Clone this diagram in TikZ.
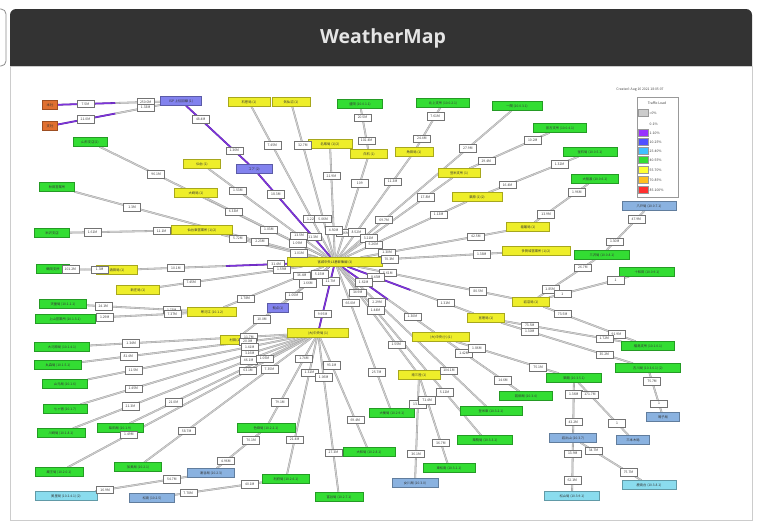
\documentclass[tikz,border=0pt]{standalone}
\usepackage{fontspec}
\setmainfont{Noto Sans CJK JP}
\newfontfamily\titlefont{Open Sans}
\usetikzlibrary{calc}
\pgfdeclarelayer{back}
\pgfdeclarelayer{bg}
\pgfsetlayers{back,bg,main}
\definecolor{hd}{HTML}{333333}
\definecolor{cgr}{HTML}{33DD33}
\definecolor{cye}{HTML}{EEEE2A}
\definecolor{cor}{HTML}{E07030}
\definecolor{csl}{HTML}{8282EE}
\definecolor{cst}{HTML}{8AB2E0}
\definecolor{ccy}{HTML}{8ADCEE}
\definecolor{gy}{HTML}{CDCDCD}
\definecolor{pu}{HTML}{7E34DC}
\definecolor{lgpu}{HTML}{9933FF}
\definecolor{lgbl}{HTML}{5050FF}
\definecolor{lglb}{HTML}{40C0FF}
\definecolor{lggr}{HTML}{33DD33}
\definecolor{lgye}{HTML}{FFFF33}
\definecolor{lgor}{HTML}{FFC020}
\definecolor{lgre}{HTML}{FF3030}
\newcommand\nfont{\fontsize{3.3}{3.6}\selectfont}
\newcommand\lfont{\fontsize{3.4}{3.7}\selectfont}
\tikzset{
 nb/.style={rectangle, inner sep=0.4pt, minimum height=9pt, font=\nfont, text=black!80, line width=0.3pt},
 gr/.style={nb, fill=cgr, draw=cgr!70!black},
 ye/.style={nb, fill=cye, draw=cye!70!black},
 orr/.style={nb, fill=cor, draw=cor!70!black},
 sl/.style={nb, fill=csl, draw=csl!70!black},
 st/.style={nb, fill=cst, draw=cst!70!black},
 cy/.style={nb, fill=ccy, draw=ccy!70!black},
 lab/.style={rectangle, draw=black!55, fill=white, inner sep=0.6pt, minimum width=17pt, minimum height=7.5pt, font=\lfont, text=black!75, line width=0.35pt},
 ln/.style={draw=#1!72!black, double=#1, double distance=1.2pt, line width=0.3pt},
 sw/.style={rectangle, minimum width=10pt, minimum height=7pt, inner sep=0pt, draw=black!40, line width=0.2pt},
 lgt/.style={font=\lfont, anchor=west, inner sep=0.5pt, text=black!75}
}
\newcommand\mkn[6]{\node[#5, minimum width=#4pt] (#1) at (#2,#3) {#6};}
\newcommand\lk[6]{%
 \begin{pgfonlayer}{bg}
 \draw[ln=#3] (#1) -- ($(#1)!0.5!(#2)$);
 \draw[ln=#4] ($(#1)!0.5!(#2)$) -- (#2);
 \end{pgfonlayer}
 \node[lab] (#1#2a) at ($(#1)!0.27!(#2)$) {#5};
 \node[lab] (#1#2b) at ($(#1)!0.73!(#2)$) {#6};
}
\begin{document}
\begin{tikzpicture}[x=1pt,y=-1pt]
\useasboundingbox (0,0) rectangle (760,525);
\begin{pgfonlayer}{back}
\fill[white] (0,0) rectangle (760,525);
\draw[black!45, line width=0.8pt, rounded corners=5pt] (-20,9) rectangle (6,66);
\fill[hd, rounded corners=6pt] (10,9) rectangle (752,90);
\draw[black!20, line width=0.8pt, fill=white] (10,66) rectangle (752,520);
\end{pgfonlayer}
\node[font=\titlefont\bfseries\fontsize{19.5}{24}\selectfont, text=white!90!black] (title) at (383,38) {WeatherMap};
% date and legend
\node[font=\lfont, text=black!70] (date) at (640,90) {Created: Aug 16 2021 18:05:07};
\node[draw=black!40, fill=white, line width=0.4pt, minimum width=41pt, minimum height=100pt, inner sep=0pt] (legend) at (657.5,147) {};
\node[font=\lfont, text=black!75] (lgtitle) at (657,103) {Traffic Load};
\node[sw, fill=black!20] (s0) at (643,113) {}; \node[lgt] (t0) at (649,113) {=0\%};
\node[sw, draw=none, fill=white] (s1) at (643,124) {}; \node[lgt] (t1) at (649,124) {0-1\%};
\node[sw, fill=lgpu] (s2) at (643,133) {}; \node[lgt] (t2) at (649,133) {1-10\%};
\node[sw, fill=lgbl] (s3) at (643,142) {}; \node[lgt] (t3) at (649,142) {10-25\%};
\node[sw, fill=lglb] (s4) at (643,151) {}; \node[lgt] (t4) at (649,151) {25-40\%};
\node[sw, fill=lggr] (s5) at (643,160) {}; \node[lgt] (t5) at (649,160) {40-55\%};
\node[sw, fill=lgye] (s6) at (643,170) {}; \node[lgt] (t6) at (649,170) {55-70\%};
\node[sw, fill=lgor] (s7) at (643,180) {}; \node[lgt] (t7) at (649,180) {70-85\%};
\node[sw, fill=lgre] (s8) at (643,190) {}; \node[lgt] (t8) at (649,190) {85-100\%};
% hubs
\mkn{H}{335}{262}{95}{ye}{宮城中央L3基幹集線 (3)}
\mkn{H2}{318}{333}{61}{ye}{(大)中央局 (1)}
\mkn{B1}{278}{308}{21}{sl}{拠点(1)}
% top left
\mkn{O1}{50}{105}{15}{orr}{本社}
\mkn{O2}{50}{126}{15}{orr}{支社}
\mkn{P1}{181}{101}{41}{sl}{ISP 上位回線 (1)}
\mkn{P2}{254}{169}{36}{sl}{コア (2)}
\mkn{G1}{90}{142}{34}{gr}{山形支店(2)}
\mkn{G2}{57}{187}{35}{gr}{秋田営業所}
\mkn{Y1}{202}{164}{37}{ye}{仙台 (1)}
\mkn{Y2}{196}{193}{43}{ye}{大崎局 (1)}
\mkn{Y3}{249}{102}{42}{ye}{石巻局 (1)}
\mkn{Y4}{291}{102}{38}{ye}{気仙沼 (1)}
\mkn{G3}{360}{104}{45}{gr}{盛岡 (10.0.1.1)}
\mkn{Y5}{330}{144}{44}{ye}{名取局 (1)(2)}
\mkn{Y6}{369}{154}{37}{ye}{白石 (1)}
\mkn{G4}{443}{103}{53}{gr}{北上支所 (10.0.2.1)}
\mkn{Y7}{414}{152}{38}{ye}{角田局 (1)}
\mkn{G5}{517}{106}{50}{gr}{一関 (10.0.3.1)}
\mkn{G6}{560}{128}{53}{gr}{宮古支所 (10.0.4.1)}
\mkn{Y8}{459}{173}{42}{ye}{登米支所 (1)}
\mkn{G7}{590}{152}{54}{gr}{釜石局 (10.0.5.1)}
\mkn{Y9}{477}{197}{50}{ye}{栗原 (1)(2)}
\mkn{G8}{595}{179}{47}{gr}{大船渡 (10.0.6.1)}
\mkn{Y10}{528}{227}{43}{ye}{塩竈局 (1)}
\mkn{S1}{649}{206}{54}{st}{八戸局 (10.0.7.1)}
\mkn{G9}{602}{255}{55}{gr}{三沢局 (10.0.8.1)}
\mkn{Y11}{536}{251}{68}{ye}{多賀城営業所 (1)(2)}
\mkn{G10}{647}{272}{55}{gr}{十和田 (10.0.9.1)}
\mkn{Y12}{531}{302}{37}{ye}{岩沼局 (1)}
\mkn{Y13}{486}{318}{37}{ye}{亘理局 (1)}
\mkn{G11}{648}{346}{53}{gr}{福島支所 (10.1.0.1)}
\mkn{Y14}{441}{337}{57}{ye}{(大)中央(小)(1)}
% left
\mkn{Y15}{202}{230}{61}{ye}{仙台東営業所 (1)(2)}
\mkn{G12}{52}{233}{35}{gr}{米沢支店}
\mkn{G13}{53}{269}{33}{gr}{鶴岡支所}
\mkn{Y16}{117}{270}{41}{ye}{酒田局 (1)}
\mkn{Y17}{138}{290}{43}{ye}{新庄局 (1)}
\mkn{G14}{63}{304}{47}{gr}{天童局 (10.1.1.1)}
\mkn{Y18}{212}{312}{49}{ye}{寒河江 (10.1.2)}
\mkn{G15}{65}{319}{60}{gr}{上山営業所 (10.1.3.1)}
\mkn{Y19}{235}{340}{30}{ye}{村田(1)}
\mkn{G16}{62}{347}{55}{gr}{大河原局 (10.1.4.1)}
\mkn{G17}{58}{365}{47}{gr}{丸森局 (10.1.5.1)}
\mkn{G18}{65}{384}{45}{gr}{山元局 (10.1.6)}
\mkn{G19}{65}{409}{44}{gr}{七ヶ宿 (10.1.7)}
\mkn{G20}{61}{433}{48}{gr}{川崎局 (10.1.8.1)}
\mkn{G21}{120}{428}{46}{gr}{柴田局 (10.1.9)}
\mkn{G22}{59}{472}{48}{gr}{蔵王局 (10.2.0.1)}
\mkn{G23}{138}{467}{47}{gr}{加美局 (10.2.1)}
\mkn{G24}{266}{428}{58}{gr}{色麻局 (10.2.2.1)}
\mkn{S2}{211}{473}{47}{st}{涌谷局 (10.2.3)}
\mkn{C1}{66}{496}{62}{cy}{美里局 (10.2.4.1) (2)}
\mkn{S3}{152}{498}{45}{st}{松島 (10.2.5)}
% bottom
\mkn{G25}{286}{479}{47}{gr}{利府局 (10.2.6.1)}
\mkn{G26}{339}{497}{48}{gr}{富谷局 (10.2.7.1)}
\mkn{G27}{369}{452}{52}{gr}{大和局 (10.2.8.1)}
\mkn{G28}{392}{413}{45}{gr}{大衡局 (10.2.9.1)}
\mkn{Y20}{419}{375}{42}{ye}{南三陸 (1)}
\mkn{S4}{415}{483}{46}{st}{女川局 (10.3.0)}
\mkn{G29}{449}{468}{52}{gr}{東松島 (10.3.1.1)}
\mkn{G30}{491}{411}{62}{gr}{登米東 (10.3.2.1)}
\mkn{G31}{485}{440}{55}{gr}{栗駒局 (10.3.3.1)}
\mkn{G32}{526}{396}{53}{gr}{若柳局 (10.3.4)}
\mkn{G33}{574}{378}{55}{gr}{築館 (10.3.5.1)}
\mkn{G34}{648}{368}{65}{gr}{古川局 (10.3.6.1) (2)}
\mkn{S5}{663}{417}{33}{st}{鳴子局}
\mkn{S6}{573}{438}{47}{st}{岩出山 (10.3.7)}
\mkn{S7}{633}{440}{33}{st}{三本木局}
\mkn{C2}{649}{485}{54}{cy}{鹿島台 (10.3.8.1)}
\mkn{C3}{572}{496}{55}{cy}{松山局 (10.3.9.1)}
% links
\lk{O1}{P1}{pu}{gy}{7.5M}{250.0M}
\lk{O2}{P1}{pu}{gy}{21.0M}{1.33M}
\lk{P1}{P2}{pu}{pu}{48.4M}{1.36M}
\lk{P2}{H}{pu}{pu}{18.3M}{11.3M}
\lk{G1}{H}{gy}{gy}{96.1M}{1.03M}
\lk{G2}{H}{gy}{gy}{1.3M}{2.23M}
\lk{Y1}{H}{gy}{gy}{1.53M}{13.5M}
\lk{Y2}{H}{gy}{gy}{6.33M}{1.09M}
\lk{Y3}{H}{gy}{gy}{7.45M}{1.22M}
\lk{Y4}{H}{gy}{gy}{32.7M}{5.06M}
\lk{G3}{Y6}{gy}{gy}{20.5M}{102.4M}
\lk{Y6}{H}{gy}{gy}{109}{2.06M}
\lk{Y5}{H}{gy}{gy}{21.9M}{4.50M}
\lk{G4}{Y7}{gy}{gy}{7.61M}{24.4M}
\lk{Y7}{H}{gy}{gy}{11.3M}{8.52M}
\lk{G5}{H}{gy}{gy}{27.9M}{69.7M}
\lk{G6}{Y8}{gy}{gy}{10.2M}{29.4M}
\lk{Y8}{H}{gy}{gy}{17.8M}{3.21M}
\lk{G7}{Y9}{gy}{gy}{1.32M}{16.4M}
\lk{Y9}{H}{gy}{gy}{1.13M}{5.26M}
\lk{G8}{Y10}{gy}{gy}{1.96M}{13.9M}
\lk{Y10}{H}{gy}{gy}{42.5M}{1.30M}
\lk{S1}{G9}{gy}{gy}{47.9M}{1.30M}
\lk{G9}{Y12}{gy}{gy}{26.7M}{1.85M}
\lk{G10}{Y12}{gy}{gy}{1}{1}
\lk{Y11}{H}{gy}{gy}{1.38M}{70.3M}
\lk{Y12}{H}{gy}{gy}{80.5M}{5.61M}
\lk{Y12}{G11}{gy}{gy}{73.5M}{91.9M}
\lk{H}{Y13}{pu}{gy}{8.43M}{1.31M}
\lk{Y13}{G11}{gy}{gy}{73.5M}{1.72M}
\lk{H}{Y14}{pu}{gy}{1.62M}{1.30M}
\lk{H}{H2}{pu}{pu}{11.7M}{9.95M}
\lk{H}{B1}{pu}{gy}{5.15M}{1.05M}
\lk{G12}{Y15}{gy}{gy}{1.61M}{11.1M}
\lk{Y15}{H}{gy}{gy}{5.72M}{1.01M}
\lk{G13}{Y16}{gy}{gy}{101.2M}{1.3M}
\lk{Y16}{H}{gy}{pu}{10.1M}{31.4M}
\lk{Y17}{H}{gy}{gy}{7.45M}{1.59M}
\lk{G14}{Y18}{gy}{gy}{24.1M}{1.75M}
\lk{G15}{Y18}{gy}{gy}{1.29M}{7.37M}
\lk{Y18}{H}{gy}{gy}{1.78M}{36.4M}
\lk{G16}{H2}{gy}{gy}{1.34M}{11.7M}
\lk{Y19}{H}{gy}{gy}{10.0M}{1.66M}
\lk{G17}{H2}{gy}{gy}{81.4M}{20.0M}
\lk{G18}{H2}{gy}{gy}{11.5M}{1.41M}
\lk{G19}{H2}{gy}{gy}{1.45M}{3.16M}
\lk{G20}{H2}{gy}{gy}{21.3M}{46.1M}
\lk{G21}{H2}{gy}{gy}{21.0M}{1.05M}
\lk{G22}{H2}{gy}{gy}{1.49M}{63.1M}
\lk{G23}{H2}{gy}{gy}{58.7M}{7.35M}
\lk{G24}{H2}{gy}{gy}{79.1M}{1.74M}
\lk{S2}{G24}{gy}{gy}{4.96M}{70.1M}
\lk{C1}{S2}{gy}{gy}{16.9M}{54.7M}
\lk{S3}{G25}{gy}{gy}{7.78M}{40.1M}
\lk{G25}{H2}{gy}{gy}{21.4M}{1.31M}
\lk{G26}{H2}{gy}{gy}{27.3M}{1.06M}
\lk{G27}{H2}{gy}{gy}{69.4M}{93.1M}
\lk{G28}{H}{gy}{gy}{25.7M}{66.0M}
\lk{Y20}{H}{gy}{gy}{1.55M}{34.9M}
\lk{Y20}{S4}{gy}{gy}{13.7M}{36.1M}
\lk{Y20}{G29}{gy}{gy}{71.4M}{36.7M}
\lk{G30}{H}{gy}{gy}{104.1M}{2.29M}
\lk{G31}{H}{gy}{gy}{5.12M}{1.44M}
\lk{G32}{Y14}{gy}{gy}{14.6M}{1.42M}
\lk{G33}{Y14}{gy}{gy}{75.1M}{1.86M}
\lk{G34}{Y13}{gy}{gy}{35.2M}{1.30M}
\lk{G33}{S6}{gy}{gy}{1.36M}{43.2M}
\lk{G33}{S7}{gy}{gy}{171.7M}{1}
\lk{G34}{S5}{gy}{gy}{75.7M}{1}
\lk{S6}{C3}{gy}{gy}{13.9M}{62.1M}
\lk{S6}{C2}{gy}{gy}{34.7M}{75.7M}
\end{tikzpicture}
\end{document}
